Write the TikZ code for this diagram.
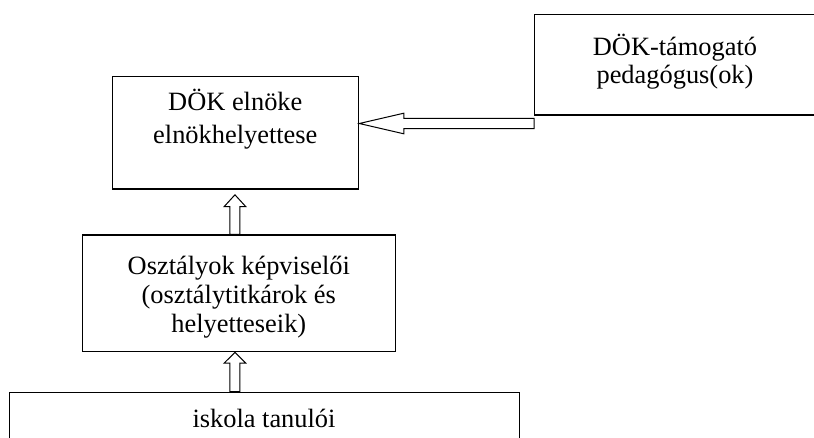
\documentclass[tikz,border=0pt]{standalone}
\usepackage{fontspec}
\setmainfont{Liberation Serif}
\usetikzlibrary{calc}
\begin{document}
\begin{tikzpicture}[x=1pt,y=-1pt,
  box/.style={draw=black, line width=1.3pt, rectangle, inner sep=0pt, anchor=north west},
  txt/.style={anchor=base, inner sep=0pt, font=\fontsize{26.4}{29}\selectfont},
  harrow/.style={draw=black, line width=1pt, fill=white, line join=miter}]
\fill[white] (0,0) rectangle (814,437);
\useasboundingbox (0,0) rectangle (814,437);
% boxes
\node[box, minimum width=282pt, minimum height=100.3pt] (tam) at (534,14) {};
\node[box, minimum width=246pt, minimum height=112.3pt] (elnok) at (112,76) {};
\node[box, minimum width=313pt, minimum height=116.8pt] (oszt) at (82,234.3) {};
\node[box, minimum width=510pt, minimum height=60pt] (isk) at (9,391.7) {};
% texts
\node[txt] (t1) at (675,55) {DÖK-támogató};
\node[txt] (t2) at (675,83.5) {pedagógus(ok)};
\node[txt] (e1) at (235.3,110.7) {DÖK elnöke};
\node[txt] (e2) at (235.3,143.3) {elnökhelyettese};
\node[txt] (o1) at (238.8,274.5) {Osztályok képviselői};
\node[txt] (o2) at (238.8,303.3) {(osztálytitkárok és};
\node[txt] (o3) at (238.8,332) {helyetteseik)};
\node[txt] (i1) at (264,427) {iskola tanulói};
% arrow from support teacher to president
\coordinate (a1t) at ($(tam.south west)+(0,7.9)$);
\coordinate (a1h) at (elnok.east |- a1t);
\draw[harrow] (a1h) -- ($(a1h)+(44.5,-10.3)$) -- ($(a1h)+(44.5,-5.2)$)
  -- ($(a1t)+(0,-5.2)$) -- ($(a1t)+(0,5.2)$) -- ($(a1h)+(44.5,5.2)$)
  -- ($(a1h)+(44.5,10.3)$) -- cycle;
% arrow from class reps to president
\coordinate (a2b) at ($(oszt.north)+(-4.2,0)$);
\coordinate (a2t) at ($(elnok.south -| a2b)+(0,5.2)$);
\draw[harrow] (a2t) -- ($(a2t)+(10.8,11.8)$) -- ($(a2t)+(5,11.8)$)
  -- ($(a2b)+(5,0)$) -- ($(a2b)+(-5,0)$) -- ($(a2t)+(-5,11.8)$)
  -- ($(a2t)+(-10.8,11.8)$) -- cycle;
% arrow from students to class reps
\coordinate (a3t) at ($(oszt.south)+(-4.2,0)$);
\coordinate (a3b) at (isk.north -| a3t);
\draw[harrow] (a3t) -- ($(a3t)+(10.8,10.7)$) -- ($(a3t)+(5,10.7)$)
  -- ($(a3b)+(5,0)$) -- ($(a3b)+(-5,0)$) -- ($(a3t)+(-5,10.7)$)
  -- ($(a3t)+(-10.8,10.7)$) -- cycle;
\end{tikzpicture}
\end{document}
